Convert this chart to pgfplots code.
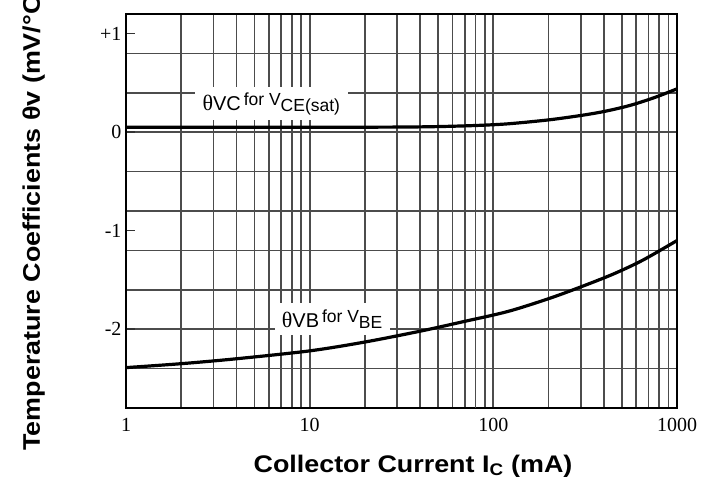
\documentclass[border=0pt]{standalone}
\usepackage{pgfplots}
\pgfplotsset{compat=1.18}
\usepackage{graphicx}
\usepackage{fontspec}
\setmainfont{Liberation Sans}
\newfontfamily\serif{Liberation Serif}

\pgfplotstableread{
I v
1 0.05
3 0.05
10 0.05
30 0.052
50 0.057
80 0.068
120 0.085
200 0.125
300 0.17
400 0.21
550 0.27
750 0.35
1000 0.44
}\vcdata

\pgfplotstableread{
I v
1 -2.39
2 -2.35
4 -2.30
10 -2.22
20 -2.13
40 -2.02
70 -1.92
120 -1.82
200 -1.69
300 -1.57
450 -1.44
650 -1.30
1000 -1.10
}\vbdata

\begin{document}
\begin{tikzpicture}
\begin{axis}[
  scale only axis, width=551pt, height=394pt,
  xmode=log, xmin=1, xmax=1000, ymin=-2.8, ymax=1.2,
  xtick={1,10,100,1000}, xticklabels={1,10,100,1000},
  ytick={-2,-1,0,1}, yticklabels={-2,-1,0,+1},
  minor ytick={-2.8,-2.4,-2.0,-1.6,-1.2,-0.8,-0.4,0,0.4,0.8,1.2},
  xmajorgrids=true, xminorgrids=true, yminorgrids=true, ymajorgrids=false,
  major grid style={black!70, line width=1.7pt},
  minor grid style={black!70, line width=1.7pt},
  extra x ticks={80}, extra x tick labels={},
  extra x tick style={grid style={black, line width=1.2pt}, major tick length=0pt},
  tick align=inside, major tick length=9pt, minor tick length=0pt,
  xtick style={draw=none}, ytick pos=left,
  ytick style={black!80, line width=1.5pt},
  axis line style={black, line width=2pt},
  /pgf/number format/assume math mode=true,
  ticklabel style={font=\serif\fontsize{20}{20}\selectfont, black},
  xticklabel style={yshift=-7pt},
  yticklabel style={xshift=-1pt},
]
\node[fill=white, inner sep=0pt, minimum width=153pt, minimum height=33pt] at (axis cs:6.18,0.289)
  {{\serif\fontsize{22}{22}\selectfont θ}{\fontsize{20}{20}\selectfont VC}\raisebox{5pt}{\fontsize{17.5}{17.5}\selectfont\,for V}\raisebox{-1pt}{\fontsize{17.5}{17.5}\selectfont CE(sat)}};
\node[fill=white, inner sep=0pt, minimum width=115pt, minimum height=32pt] at (axis cs:13.25,-1.90)
  {{\serif\fontsize{22}{22}\selectfont θ}{\fontsize{20}{20}\selectfont VB}\raisebox{5pt}{\fontsize{17.5}{17.5}\selectfont\,for V}\raisebox{-1pt}{\fontsize{17.5}{17.5}\selectfont BE}};
\addplot[black, line width=3.2pt, smooth] table[x=I, y=v] {\vcdata};
\addplot[black, line width=3.2pt, smooth] table[x=I, y=v] {\vbdata};
\end{axis}
\node[rotate=90, anchor=base west, font=\bfseries\fontsize{24}{24}\selectfont] at ([shift={(-86pt,-46pt)}]current axis.south west)
  {\scalebox{1.12}[1]{Temperature Coefficients θv (mV/°C)}};
\node[anchor=base, font=\bfseries\fontsize{24}{24}\selectfont] at ([shift={(287pt,-64pt)}]current axis.south west)
  {\scalebox{1.12}[1]{Collector Current I\textsubscript{C} (mA)}};
\pgfresetboundingbox
\path[use as bounding box] ([shift={(-126pt,-79pt)}]current axis.south west) rectangle ([shift={(583pt,408pt)}]current axis.south west);
\end{tikzpicture}
\end{document}
